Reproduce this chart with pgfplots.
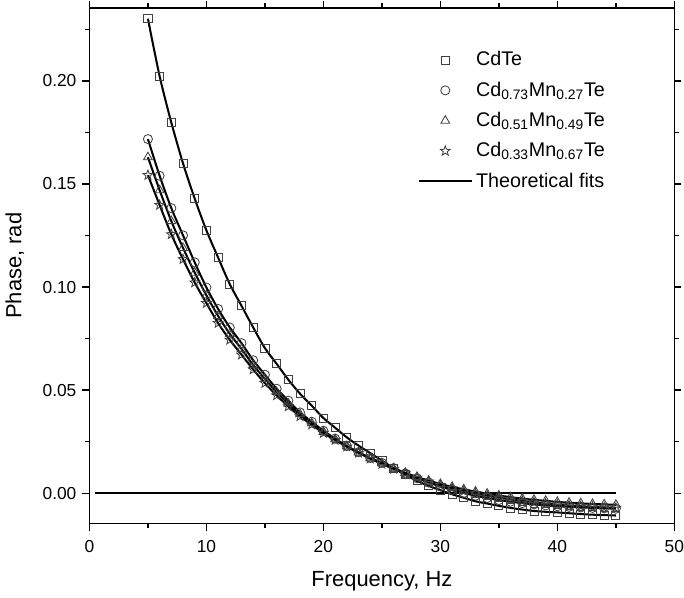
\documentclass[border=0pt]{standalone}
\usepackage{pgfplots}
\usepackage{pgfplotstable}
\pgfplotsset{compat=1.18}
\usepackage{fontspec}
\setmainfont{Liberation Sans}
\usetikzlibrary{plotmarks}

\pgfdeclareplotmark{ostar}{%
  \pgfpathmoveto{\pgfpointpolar{90}{\pgfplotmarksize}}%
  \pgfpathlineto{\pgfpointpolar{126}{0.42\pgfplotmarksize}}%
  \pgfpathlineto{\pgfpointpolar{162}{\pgfplotmarksize}}%
  \pgfpathlineto{\pgfpointpolar{198}{0.42\pgfplotmarksize}}%
  \pgfpathlineto{\pgfpointpolar{234}{\pgfplotmarksize}}%
  \pgfpathlineto{\pgfpointpolar{270}{0.42\pgfplotmarksize}}%
  \pgfpathlineto{\pgfpointpolar{306}{\pgfplotmarksize}}%
  \pgfpathlineto{\pgfpointpolar{342}{0.42\pgfplotmarksize}}%
  \pgfpathlineto{\pgfpointpolar{18}{\pgfplotmarksize}}%
  \pgfpathlineto{\pgfpointpolar{54}{0.42\pgfplotmarksize}}%
  \pgfpathclose
  \pgfusepathqstroke
}

\pgfplotstableread{
x  cdte    cA      cB      cC
5  0.2302  0.1718  0.1630  0.1543
6  0.2023  0.1540  0.1470  0.1398
7  0.1798  0.1383  0.1320  0.1256
8  0.1600  0.1251  0.1190  0.1135
9  0.1429  0.1120  0.1070  0.1022
10 0.1275  0.0998  0.0960  0.0922
11 0.1143  0.0894  0.0860  0.0825
12 0.1014  0.0804  0.0773  0.0744
13 0.0909  0.0728  0.0700  0.0672
14 0.0804  0.0645  0.0622  0.0600
15 0.0704  0.0575  0.0555  0.0534
16 0.0628  0.0507  0.0491  0.0475
17 0.0551  0.0449  0.0435  0.0421
18 0.0483  0.0392  0.0383  0.0373
19 0.0425  0.0347  0.0340  0.0333
20 0.0365  0.0303  0.0298  0.0292
21 0.0318  0.0265  0.0262  0.0258
22 0.0271  0.0229  0.0228  0.0226
23 0.0231  0.0199  0.0198  0.0196
24 0.0195  0.0171  0.0170  0.0168
25 0.0158  0.0147  0.0145  0.0142
26 0.0122  0.0122  0.0121  0.0118
27 0.0090  0.0096  0.0099  0.0096
28 0.0060  0.0073  0.0079  0.0075
29 0.0036  0.0052  0.0061  0.0056
30 0.0015  0.0033  0.0045  0.0039
31 -0.0005 0.0016  0.0031  0.0024
32 -0.0022 0.0001  0.0019  0.0011
33 -0.0039 -0.0012 0.0008  -0.0001
34 -0.0050 -0.0023 -0.0002 -0.0012
35 -0.0061 -0.0033 -0.0011 -0.0021
36 -0.0071 -0.0041 -0.0019 -0.0030
37 -0.0079 -0.0048 -0.0026 -0.0037
38 -0.0086 -0.0054 -0.0032 -0.0044
39 -0.0090 -0.0059 -0.0037 -0.0050
40 -0.0093 -0.0063 -0.0042 -0.0055
41 -0.0097 -0.0066 -0.0046 -0.0059
42 -0.0101 -0.0069 -0.0049 -0.0063
43 -0.0104 -0.0071 -0.0052 -0.0066
44 -0.0106 -0.0073 -0.0054 -0.0069
45 -0.0108 -0.0075 -0.0056 -0.0071
}\datatable

\pgfplotstableread{
x   y
0.5 0
45  0
}\zeroline

\begin{document}
\begin{tikzpicture}
\begin{axis}[
  scale only axis,
  width=347pt, height=306pt,
  xmin=0, xmax=50, ymin=-0.0147, ymax=0.2355,
  xtick={0,10,...,50},
  minor xtick={5,15,...,45},
  ytick={0,0.05,0.10,0.15,0.20},
  minor ytick={0.025,0.075,0.125,0.175,0.225},
  tick align=outside,
  major tick length=4.2pt,
  minor tick length=2.6pt,
  every tick/.style={black, line width=0.8pt},
  axis line style={line width=0.9pt},
  yticklabel style={/pgf/number format/.cd, fixed, fixed zerofill, precision=2},
  xticklabel style={inner xsep=0pt, yshift=-2pt},
  /pgf/number format/assume math mode=true,
  ticklabel style={font=\fontsize{10.3}{12}\selectfont},
  label style={font=\fontsize{13}{15}\selectfont},
  xlabel={Frequency, Hz},
  ylabel={Phase, rad},
  xlabel style={yshift=-4.8pt},
  ylabel style={yshift=4pt},
  scaled y ticks=false,
  legend style={at={(0.561,0.922)}, anchor=north west, draw=none, fill=none,
    font=\fontsize{11.7}{14}\selectfont, row sep=4pt, inner sep=0pt},
  legend cell align=left,
  legend image code/.code={\draw[mark repeat=2,mark phase=2,#1] plot coordinates {(0cm,0cm) (0.55cm,0cm) (1.1cm,0cm)};},
]
\addplot[only marks, mark=square, mark size=2.4pt, draw=black!75, mark options={line width=0.5pt}] table[x=x,y=cdte] {\datatable};
\addlegendentry{CdTe}
\addplot[only marks, mark=o, mark size=2.7pt, draw=black!75, mark options={line width=0.5pt}] table[x=x,y=cA] {\datatable};
\addlegendentry{Cd\textsubscript{0.73}Mn\textsubscript{0.27}Te}
\addplot[only marks, mark=triangle, mark size=3.0pt, draw=black!75, mark options={line width=0.5pt}] table[x=x,y=cB] {\datatable};
\addlegendentry{Cd\textsubscript{0.51}Mn\textsubscript{0.49}Te}
\addplot[only marks, mark=ostar, mark size=3.0pt, draw=black!75, mark options={line width=0.5pt}] table[x=x,y=cC] {\datatable};
\addlegendentry{Cd\textsubscript{0.33}Mn\textsubscript{0.67}Te}
\addplot[black, line width=1.2pt, smooth, no marks] table[x=x,y=cdte] {\datatable};
\addlegendentry{Theoretical fits}
\addplot[black, line width=1.2pt, smooth, no marks, forget plot] table[x=x,y=cA] {\datatable};
\addplot[black, line width=1.2pt, smooth, no marks, forget plot] table[x=x,y=cB] {\datatable};
\addplot[black, line width=1.2pt, smooth, no marks, forget plot] table[x=x,y=cC] {\datatable};
\addplot[black, line width=1.2pt, no marks, forget plot] table[x=x,y=y] {\zeroline};
\end{axis}
\end{tikzpicture}
\end{document}
